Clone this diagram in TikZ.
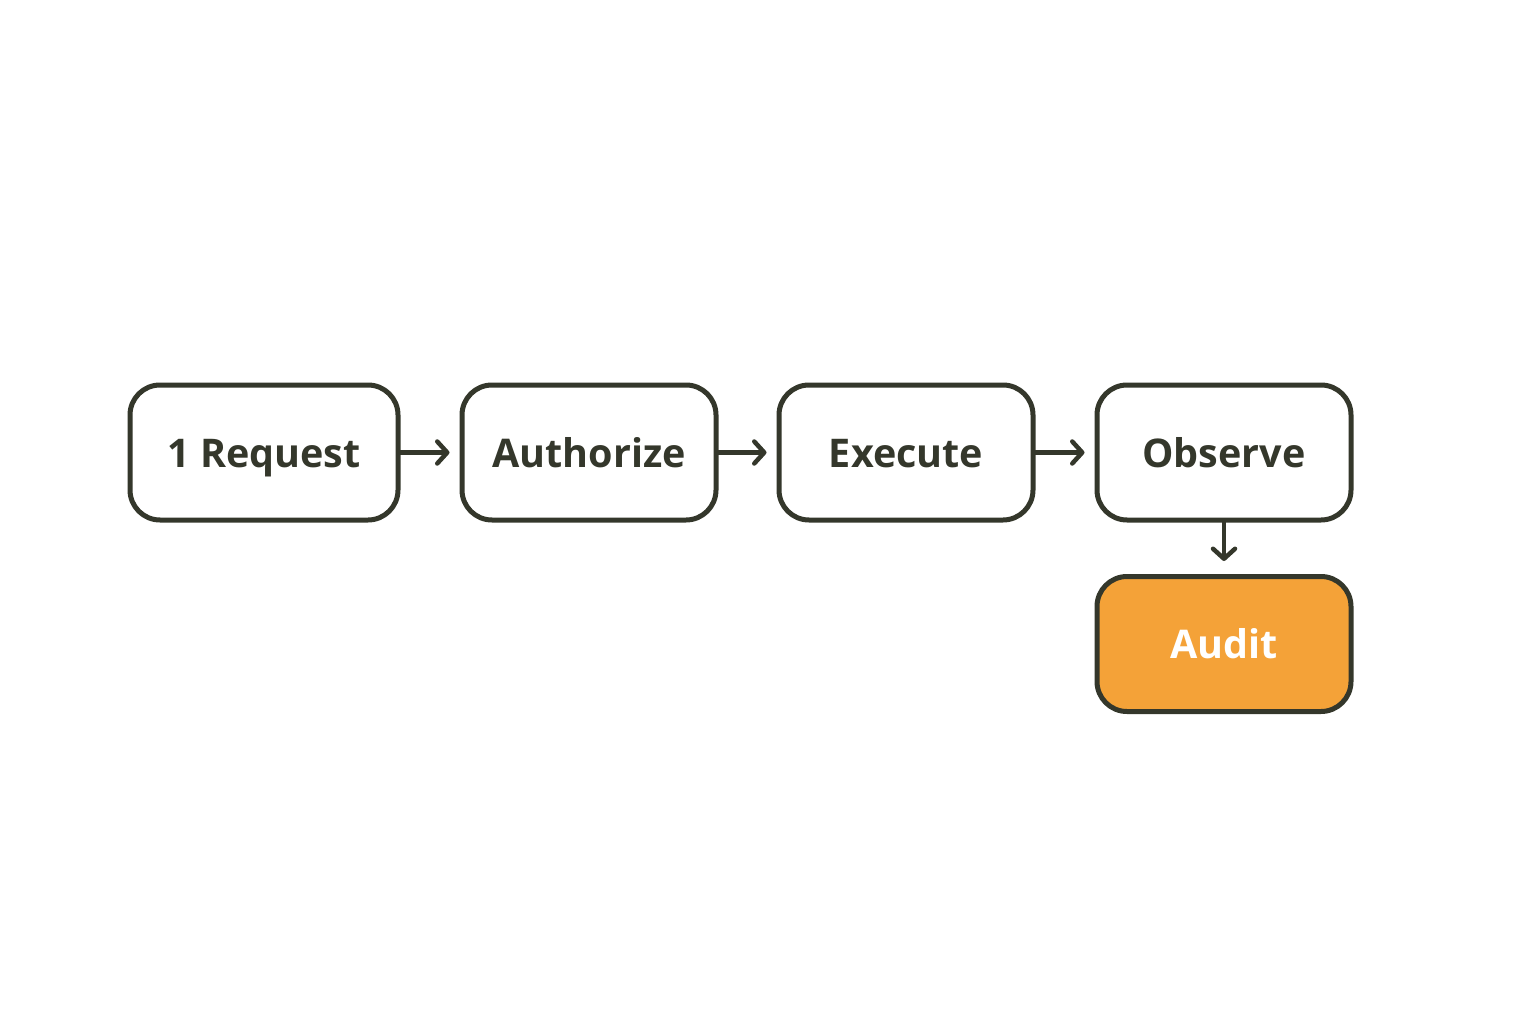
\documentclass[tikz,border=0pt]{standalone}
\usepackage{fontspec}
\setmainfont{Open Sans}
\usetikzlibrary{arrows.meta}
\definecolor{ink}{HTML}{34372B}
\definecolor{auditfill}{HTML}{F4A238}
\tikzset{
  stepbox/.style={draw=ink, line width=5pt, rounded corners=30pt, minimum width=268pt, minimum height=135pt, fill=white, text=ink, font=\bfseries\fontsize{39.5}{46}\selectfont, inner sep=0pt, text height=29pt, text depth=0pt},
  auditbox/.style={stepbox, fill=auditfill, text=white},
  conn/.style={draw=ink, line width=4.5pt, line cap=round, -{Straight Barb[length=10pt, width=22pt, line width=4.5pt, line cap=round, line join=round]}},
}
\begin{document}
\begin{tikzpicture}[x=1pt, y=-1pt]
\useasboundingbox (0,0) rectangle (1536,1024);
\node[stepbox] (req) at (264,452.5) {1 Request};
\node[stepbox, minimum width=254pt] (auth) at (589,452.5) {Authorize};
\node[stepbox, minimum width=254pt] (exec) at (906,452.5) {Execute};
\node[stepbox, minimum width=254pt] (obs) at (1224,452.5) {Observe};
\node[auditbox, minimum width=254pt] (aud) at (1224,644) {Audit};
\draw[conn] (req.east) -- ([xshift=-10pt]auth.west);
\draw[conn] (auth.east) -- ([xshift=-10pt]exec.west);
\draw[conn] (exec.east) -- ([xshift=-10pt]obs.west);
\draw[conn] (obs.south) -- ([yshift=13pt]aud.north);
\end{tikzpicture}
\end{document}
